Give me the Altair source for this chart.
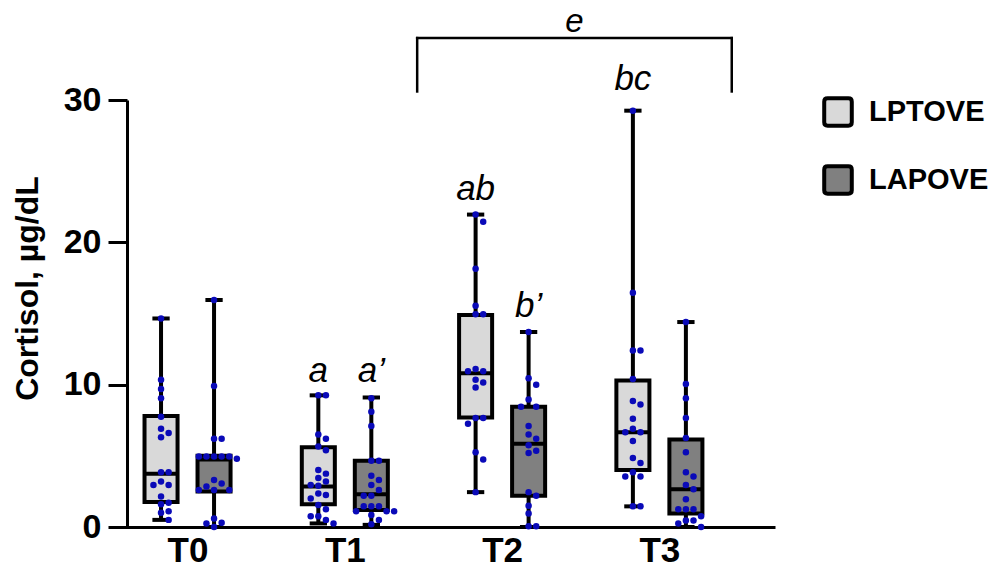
import altair as alt
import pandas as pd

groups = ["T0", "T1", "T2", "T3"]
series = ["LPTOVE", "LAPOVE"]
fills = ["#d9d9d9", "#808080"]

# individual cortisol values (µg/dL)
t0_lptove = [14.65, 10.35, 9.7, 9.05, 7.75, 6.9, 6.6, 6.3, 3.85, 3.85, 3.2, 2.95, 2.95, 2.15, 1.7, 1.6, 1.1, 1.0, 0.5]
t0_lapove = [15.95, 9.9, 6.2, 6.2, 4.95, 4.95, 4.95, 4.95, 4.95, 4.8, 3.3, 3.05, 2.85, 2.6, 2.6, 2.6, 0.6, 0.3, 0.25, 0.0]
t1_lptove = [9.25, 9.25, 6.5, 6.2, 5.65, 5.4, 4.0, 3.75, 3.45, 3.2, 2.95, 2.9, 2.35, 2.25, 2.0, 1.55, 1.25, 0.75, 0.75, 0.5, 0.25]
t1_lapove = [9.05, 8.1, 7.1, 4.65, 4.65, 3.6, 3.3, 2.95, 2.6, 2.2, 2.2, 1.45, 1.45, 1.45, 1.1, 1.1, 1.1, 0.85, 0.5, 0.2]
t2_lptove = [21.95, 21.45, 18.15, 15.55, 14.95, 14.95, 11.1, 10.95, 10.95, 10.35, 10.15, 9.8, 7.65, 7.65, 7.25, 5.25, 4.75, 2.45]
t2_lapove = [13.7, 10.45, 10.0, 8.95, 8.45, 8.45, 7.1, 6.5, 6.2, 5.75, 5.35, 5.2, 2.45, 2.2, 1.5, 0.95, 0.05, 0.05]
t3_lptove = [29.25, 16.45, 12.4, 12.4, 10.4, 8.85, 8.6, 7.6, 6.9, 6.65, 6.65, 6.05, 4.85, 4.5, 3.85, 3.55, 3.55, 1.45, 1.45]
t3_lapove = [14.4, 10.05, 9.05, 7.65, 6.25, 5.25, 3.85, 3.55, 2.95, 2.65, 1.95, 1.25, 1.25, 1.25, 0.75, 0.45, 0.45, 0.25, 0.0]

# box summaries, order: T0 LPTOVE, T0 LAPOVE, T1 LPTOVE, ...
box_min = [0.5, 0.0, 0.25, 0.15, 2.45, 0.0, 1.45, 0.0]
box_q1 = [1.75, 2.5, 1.6, 1.2, 7.7, 2.2, 4.0, 0.95]
box_med = [3.75, 4.75, 2.85, 2.3, 10.8, 5.85, 6.65, 2.65]
box_q3 = [7.8, 5.0, 5.6, 4.65, 14.9, 8.45, 10.3, 6.15]
box_max = [14.65, 15.95, 9.25, 9.1, 21.95, 13.7, 29.25, 14.4]

# significance letters
ann_text = ["a", "a’", "ab", "b’", "bc"]
ann_group = ["T1", "T1", "T2", "T2", "T3"]
ann_series = ["LPTOVE", "LAPOVE", "LPTOVE", "LAPOVE", "LPTOVE"]
ann_y = [10.2, 10.2, 23.0, 14.75, 30.7]

# bracket over T2-T3 with its letter
bracket_from = ["T2", -0.54]
bracket_to = ["T3", 0.46]
bracket_top = 34.35
bracket_bottom = 30.6
bracket_text = "e"
bracket_text_y = 34.8

SHIFT = 0.1685   # half distance between the two boxes of a group
HALF = 0.105     # half box width
CAP = 0.055      # half cap width
PX_X = 157.3     # px per x unit
PX_Y = 427 / 30  # px per y unit


def swarm(vals, d=7.6):
    placed = []
    offs = []
    for v in vals:
        y = v * PX_Y
        cands = [0]
        for k in range(1, 8):
            cands += [k * d, -k * d]
        for c in cands:
            if all((c - px) ** 2 + (y - py) ** 2 >= 0.9 * d * d for px, py in placed):
                break
        placed.append((c, y))
        offs.append(c / PX_X)
    return offs


all_vals = [t0_lptove, t0_lapove, t1_lptove, t1_lapove, t2_lptove, t2_lapove, t3_lptove, t3_lapove]
rows = []
boxes = []
for i, vals in enumerate(all_vals):
    g, s = groups[i // 2], series[i % 2]
    center = i // 2 + (SHIFT if i % 2 else -SHIFT)
    for v, o in zip(vals, swarm(vals)):
        rows.append({"group": g, "series": s, "value": v, "px": center + o})
    boxes.append({"group": g, "series": s, "gi": i // 2, "min": box_min[i], "q1": box_q1[i],
                  "med": box_med[i], "q3": box_q3[i], "max": box_max[i]})
pts = pd.DataFrame(rows)
box_df = pd.DataFrame(boxes)

ann_df = pd.DataFrame({"label": ann_text, "group": ann_group, "series": ann_series, "y": ann_y})
ann_df["x"] = [groups.index(g) + (SHIFT if s == "LAPOVE" else -SHIFT) for g, s in zip(ann_group, ann_series)]

bx0 = groups.index(bracket_from[0]) + bracket_from[1]
bx1 = groups.index(bracket_to[0]) + bracket_to[1]
br_df = pd.DataFrame({
    "x": [bx0, bx0, bx1],
    "x2": [bx1, bx0, bx1],
    "y": [bracket_top, bracket_bottom, bracket_bottom],
    "y2": [bracket_top, bracket_top, bracket_top],
})
e_df = pd.DataFrame({"label": [bracket_text], "x": [(bx0 + bx1) / 2], "y": [bracket_text_y]})

FONT = "Liberation Sans"
xscale = alt.Scale(domain=[-0.493, 3.735], nice=False, zero=False)
yscale = alt.Scale(domain=[0, 30], nice=False)

label_expr = "[" + ",".join(f"'{g}'" for g in groups) + "][datum.value]"
xaxis = alt.Axis(values=[0, 1, 2, 3], labelExpr=label_expr, ticks=False, grid=False, title=None,
                 domainColor="black", domainWidth=3, labelFont=FONT, labelFontSize=35,
                 labelFontWeight="bold", labelColor="black", labelPadding=6)
yaxis = alt.Axis(values=[0, 10, 20, 30], grid=False, offset=-17, tickSize=19, tickWidth=3,
                 tickColor="black", domainColor="black", domainWidth=3, labelFont=FONT,
                 labelFontSize=34, labelFontWeight="bold", labelColor="black", labelPadding=7,
                 title="Cortisol, µg/dL", titleFont=FONT, titleFontSize=32, titleFontWeight="bold",
                 titleColor="black", titlePadding=19, titleY=188)

base = alt.Chart(box_df).transform_calculate(
    xc=f"datum.gi + (datum.series === 'LPTOVE' ? {-SHIFT} : {SHIFT})",
).transform_calculate(
    xl=f"datum.xc - {HALF}", xr=f"datum.xc + {HALF}",
    cl=f"datum.xc - {CAP}", cr=f"datum.xc + {CAP}",
)

whisker = base.mark_rule(color="black", strokeWidth=4).encode(
    x=alt.X("xc:Q", scale=xscale, axis=xaxis),
    y=alt.Y("min:Q", scale=yscale, axis=yaxis),
    y2="max:Q",
)

rounded = ("M -0.75 -1 L 0.75 -1 Q 1 -1 1 -0.75 L 1 0.75 Q 1 1 0.75 1 L -0.75 1 "
           "Q -1 1 -1 0.75 L -1 -0.75 Q -1 -1 -0.75 -1 Z")
legend = alt.Legend(title=None, orient="none", legendX=712, legendY=-4, symbolType=rounded,
                    symbolSize=760, symbolStrokeWidth=4, symbolStrokeColor="black",
                    symbolOpacity=1, labelFont=FONT, labelFontSize=29, labelFontWeight="bold",
                    labelColor="black", labelOffset=15, rowPadding=24)

box = base.mark_bar(stroke="black", strokeWidth=4, opacity=1).encode(
    x="xl:Q", x2="xr:Q", y="q1:Q", y2="q3:Q",
    fill=alt.Fill("series:N", scale=alt.Scale(domain=series, range=fills), legend=legend),
)
median = base.mark_rule(color="black", strokeWidth=4).encode(x="xl:Q", x2="xr:Q", y="med:Q")
cap_top = base.mark_rule(color="black", strokeWidth=4).encode(x="cl:Q", x2="cr:Q", y="max:Q")
cap_bot = base.mark_rule(color="black", strokeWidth=4).encode(x="cl:Q", x2="cr:Q", y="min:Q")

points = alt.Chart(pts).mark_circle(size=42, color="#0a0ab8", opacity=1).encode(
    x="px:Q", y="value:Q"
)

letters = alt.Chart(ann_df).mark_text(font=FONT, fontSize=35, fontStyle="italic",
                                      baseline="alphabetic", color="black").encode(
    x="x:Q", y="y:Q", text="label:N"
)

bracket = alt.Chart(br_df).mark_rule(color="black", strokeWidth=2.5, strokeCap="square").encode(
    x="x:Q", x2="x2:Q", y="y:Q", y2="y2:Q"
)
e_text = alt.Chart(e_df).mark_text(font=FONT, fontSize=33, fontStyle="italic",
                                   baseline="alphabetic", color="black").encode(
    x="x:Q", y="y:Q", text="label:N"
)

chart = alt.layer(whisker, box, median, cap_top, cap_bot, points, letters, bracket, e_text).properties(
    width=665, height=427, background="white",
    autosize=alt.AutoSizeParams(type="none"),
    padding={"left": 102, "top": 92, "right": 222, "bottom": 43},
).configure_view(stroke=None)

chart.save("out.html", embed_options={"renderer": "svg", "actions": False})
